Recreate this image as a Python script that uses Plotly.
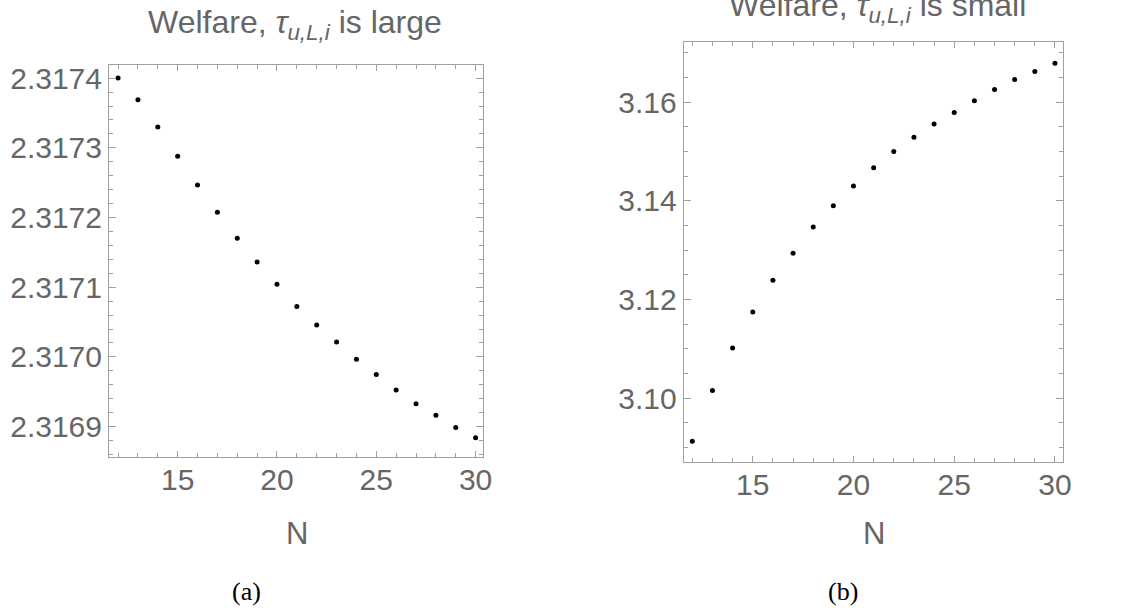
import plotly.graph_objects as go

N = list(range(12, 31))
welfare_large = [2.3174003, 2.3173689, 2.3173298, 2.3172879, 2.3172465, 2.3172075,
                 2.3171704, 2.3171361, 2.3171042, 2.3170723, 2.3170456, 2.3170214,
                 2.3169967, 2.3169748, 2.3169524, 2.3169328, 2.3169163, 2.3168986,
                 2.3168839]
welfare_small = [3.0913, 3.1016, 3.1102, 3.1175, 3.1239, 3.1294, 3.1347, 3.1390,
                 3.1430, 3.1467, 3.1500, 3.1529, 3.1556, 3.1579, 3.1603, 3.1626,
                 3.1646, 3.1662, 3.1679]

title_a = "Welfare, <i>τ</i><sub><i>u,L,i</i></sub> is large"
title_b = "Welfare, <i>τ</i><sub><i>u,L,i</i></sub> is small"

W, H = 1139, 611
FONT = "Liberation Sans"
LABEL_COLOR = "#666666"
FRAME_COLOR = "#a0a0a0"

fig = go.Figure()
fig.add_trace(go.Scatter(x=N, y=welfare_large, mode="markers",
                         marker=dict(color="black", size=5), xaxis="x", yaxis="y",
                         showlegend=False))
fig.add_trace(go.Scatter(x=N, y=welfare_small, mode="markers",
                         marker=dict(color="black", size=5), xaxis="x2", yaxis="y2",
                         showlegend=False))


def px_x(p):
    return p / W


def px_y(p):
    return 1 - p / H


common = dict(showline=True, mirror="ticks", linecolor=FRAME_COLOR, linewidth=1.3,
              ticks="inside", tickcolor=FRAME_COLOR, tickwidth=1,
              showgrid=False, zeroline=False,
              tickfont=dict(family=FONT, size=30, color=LABEL_COLOR))

fig.update_layout(
    width=W, height=H,
    margin=dict(l=0, r=0, t=0, b=0),
    paper_bgcolor="white", plot_bgcolor="white",
    xaxis=dict(domain=[px_x(110), px_x(487)], range=[11.55, 30.38], anchor="y",
               tick0=0, dtick=5, ticklen=6, ticklabelstandoff=-5,
               minor=dict(ticks="inside", dtick=1, tick0=0, ticklen=4,
                          tickcolor=FRAME_COLOR),
               **common),
    yaxis=dict(domain=[px_y(456.7), px_y(62)], range=[2.3168557, 2.3174193], anchor="x",
               tick0=2.3169, dtick=0.0001, tickformat=".4f", ticklen=7,
               minor=dict(ticks="inside", dtick=0.00002, ticklen=4,
                          tickcolor=FRAME_COLOR),
               **common),
    xaxis2=dict(domain=[px_x(689.3), px_x(1071.7)], range=[11.58, 30.41], anchor="y2",
                tick0=0, dtick=5, ticklen=6, ticklabelstandoff=-5,
                minor=dict(ticks="inside", dtick=1, tick0=0, ticklen=4,
                           tickcolor=FRAME_COLOR),
                **common),
    yaxis2=dict(domain=[px_y(461.7), px_y(38.7)], range=[3.0870, 3.1723], anchor="x2",
                tick0=3.10, dtick=0.02, tickformat=".2f", ticklen=7,
                minor=dict(ticks="inside", dtick=0.005, ticklen=4,
                           tickcolor=FRAME_COLOR),
                **common),
)


def label(text, x, y, family=FONT, size=30, color=LABEL_COLOR):
    return dict(text=text, x=px_x(x), y=px_y(y), xref="paper", yref="paper",
                xanchor="center", yanchor="middle", showarrow=False,
                font=dict(family=family, size=size, color=color))


ann = [
    label(title_a, 297, 22, size=32),
    label(title_b, 884, 5, size=32),
    label("N", 299, 533, size=31),
    label("N", 881, 533, size=31),
    label("(a)", 248, 591, family="Liberation Serif", size=26, color="black"),
    label("(b)", 850, 591, family="Liberation Serif", size=26, color="black"),
]
fig.update_layout(annotations=ann)

fig.write_html("out.html")
